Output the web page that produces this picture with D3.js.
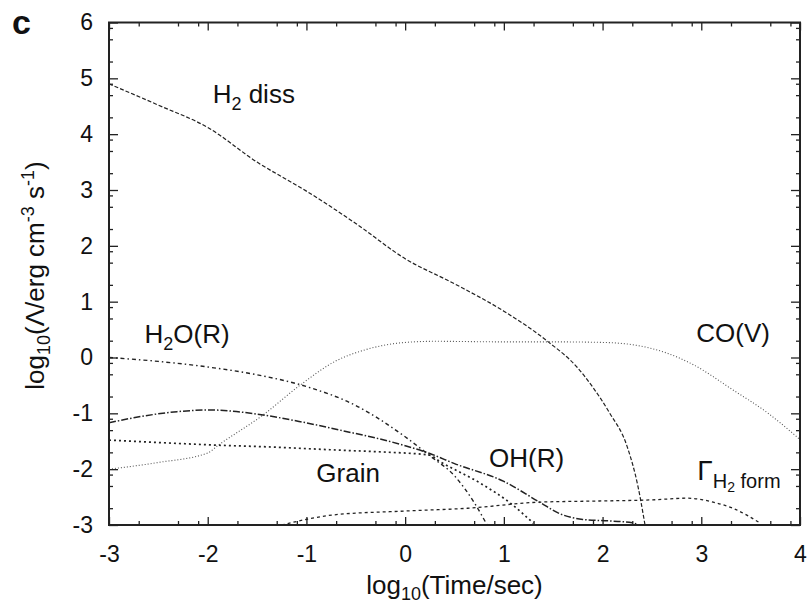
<!DOCTYPE html>
<html>
<head>
<meta charset="utf-8">
<script src="https://cdn.jsdelivr.net/npm/d3@7"></script>
<style>
  body { margin: 0; background: #fff; }
  text { font-family: "Liberation Sans", Arial, sans-serif; fill: #111; }
</style>
</head>
<body>
<script>
// chart size
var svgWidth = 809;
var svgHeight = 608;

// plot frame in pixels
var margin = { top: 22.5, right: 9, bottom: 83, left: 109 };
var chartWidth = svgWidth - margin.left - margin.right;
var chartHeight = svgHeight - margin.top - margin.bottom;

// ---- data (log10 time, log10 rate) ----
var h2dissT = [-3, -2.5, -2, -1.5, -1, -0.5, 0, 0.5, 1, 1.45, 1.74, 1.9, 2.07, 2.25, 2.36, 2.43];
var h2dissV = [4.9, 4.52, 4.12, 3.5, 2.98, 2.4, 1.77, 1.32, 0.83, 0.28, -0.17, -0.53, -0.99, -1.6, -2.32, -3.0];

var coT = [-3, -2.5, -2, -1.9, -1.44, -1.06, -0.7, -0.4, 0, 0.3, 1, 1.5, 2, 2.3, 2.65, 2.92, 3.32, 3.67, 4];
var coV = [-2.0, -1.88, -1.71, -1.58, -1.03, -0.49, -0.06, 0.14, 0.27, 0.29, 0.28, 0.28, 0.27, 0.23, 0.08, -0.13, -0.58, -0.99, -1.47];

var h2oT = [-3, -2.5, -2, -1.5, -1, -0.5, 0, 0.25, 0.5, 0.7, 0.83];
var h2oV = [0, -0.07, -0.17, -0.31, -0.52, -0.86, -1.42, -1.76, -2.12, -2.6, -3.0];

var ohT = [-3, -2.75, -2.31, -1.98, -1.44, -1.06, -0.66, 0, 0.25, 0.5, 1, 1.37, 1.57, 1.8, 2.1, 2.3, 2.36];
var ohV = [-1.17, -1.08, -0.97, -0.94, -1.03, -1.15, -1.3, -1.58, -1.72, -1.9, -2.22, -2.6, -2.8, -2.9, -2.93, -2.96, -3.0];

var grainT = [-3, -2.41, -1.91, -1.4, -0.66, -0.25, 0.25, 0.35, 0.76, 1.06, 1.3];
var grainV = [-1.48, -1.53, -1.57, -1.6, -1.66, -1.69, -1.75, -1.86, -2.25, -2.6, -2.97];

var gammaT = [-1.25, -0.73, 0, 0.63, 1.37, 1.97, 2.5, 2.86, 3.12, 3.32, 3.6];
var gammaV = [-3.0, -2.82, -2.75, -2.70, -2.59, -2.57, -2.55, -2.52, -2.59, -2.7, -2.97];

// axis ticks
var xTicks = [-3, -2, -1, 0, 1, 2, 3, 4];
var yTicks = [-3, -2, -1, 0, 1, 2, 3, 4, 5, 6];
var minorOffsets = [Math.log10(2), Math.log10(5), Math.log10(8)];

// series table built from the arrays above
var series = [
  { t: h2dissT, v: h2dissV, dash: "4,2", width: 1.2, color: "#222" },
  { t: coT, v: coV, dash: "1,2", width: 1.1, color: "#555" },
  { t: h2oT, v: h2oV, dash: "4,3,1.5,3", width: 1.4, color: "#222" },
  { t: ohT, v: ohV, dash: "7,2,1.5,2", width: 1.5, color: "#222" },
  { t: grainT, v: grainV, dash: "2,3", width: 1.7, color: "#222" },
  { t: gammaT, v: gammaV, dash: "3,3", width: 1.3, color: "#222" }
];

var svg = d3.select("body")
  .append("svg")
  .attr("width", svgWidth)
  .attr("height", svgHeight);

var chartGroup = svg.append("g")
  .attr("transform", `translate(${margin.left}, ${margin.top})`);

var xScale = d3.scaleLinear().domain([-3, 4]).range([0, chartWidth]);
var yScale = d3.scaleLinear().domain([-3, 6]).range([chartHeight, 0]);

// minor tick positions
var xMinor = [];
xTicks.slice(0, -1).forEach(function(d) {
  minorOffsets.forEach(function(o) { xMinor.push(d + o); });
});
var yMinor = [];
yTicks.slice(0, -1).forEach(function(d) {
  minorOffsets.forEach(function(o) { yMinor.push(d + o); });
});

// clip curves to the frame
svg.append("defs").append("clipPath").attr("id", "clip")
  .append("rect").attr("width", chartWidth).attr("height", chartHeight);

var line = d3.line()
  .x(d => xScale(d[0]))
  .y(d => yScale(d[1]))
  .curve(d3.curveMonotoneX);

var plot = chartGroup.append("g").attr("clip-path", "url(#clip)");
series.forEach(function(s) {
  plot.append("path")
    .datum(d3.zip(s.t, s.v))
    .attr("d", line)
    .attr("fill", "none")
    .attr("stroke", s.color)
    .attr("stroke-width", s.width)
    .attr("stroke-dasharray", s.dash);
});

// axes: ticks point inward on all four sides
function styleAxis(g) {
  g.select(".domain").remove();
  g.selectAll("line").attr("stroke", "#222").attr("stroke-width", 1.3);
  g.selectAll("text").attr("font-size", "23px").attr("fill", "#111")
    .style("font-family", "Liberation Sans, Arial, sans-serif");
}
var plain = d => String(d);   // hyphen minus, as in the figure

chartGroup.append("g")
  .attr("transform", `translate(0, ${chartHeight})`)
  .call(d3.axisBottom(xScale).tickValues(xTicks).tickSizeInner(-8).tickSizeOuter(0).tickPadding(21).tickFormat(plain))
  .call(styleAxis);
chartGroup.append("g")
  .attr("transform", `translate(0, ${chartHeight})`)
  .call(d3.axisBottom(xScale).tickValues(xMinor).tickSize(-4).tickFormat(""))
  .call(styleAxis);
chartGroup.append("g")
  .call(d3.axisTop(xScale).tickValues(xTicks).tickSize(-8).tickFormat(""))
  .call(styleAxis);
chartGroup.append("g")
  .call(d3.axisTop(xScale).tickValues(xMinor).tickSize(-4).tickFormat(""))
  .call(styleAxis);

chartGroup.append("g")
  .call(d3.axisLeft(yScale).tickValues(yTicks).tickSizeInner(-9).tickSizeOuter(0).tickPadding(16).tickFormat(plain))
  .call(styleAxis);
chartGroup.append("g")
  .call(d3.axisLeft(yScale).tickValues(yMinor).tickSize(-4).tickFormat(""))
  .call(styleAxis);
chartGroup.append("g")
  .attr("transform", `translate(${chartWidth}, 0)`)
  .call(d3.axisRight(yScale).tickValues(yTicks).tickSize(-9).tickFormat(""))
  .call(styleAxis);
chartGroup.append("g")
  .attr("transform", `translate(${chartWidth}, 0)`)
  .call(d3.axisRight(yScale).tickValues(yMinor).tickSize(-4).tickFormat(""))
  .call(styleAxis);

// frame
chartGroup.append("rect")
  .attr("width", chartWidth)
  .attr("height", chartHeight)
  .attr("fill", "none")
  .attr("stroke", "#222")
  .attr("stroke-width", 2);

// curve labels (placed in data coordinates)
function label(t, v, parts, size) {
  var txt = chartGroup.append("text")
    .attr("x", xScale(t))
    .attr("y", yScale(v))
    .attr("font-size", size + "px");
  parts.forEach(function(p) {
    txt.append("tspan")
      .attr("dy", p.dy || 0)
      .attr("font-size", (p.size || size) + "px")
      .text(p.s);
  });
}
label(-1.95, 4.55, [{ s: "H" }, { s: "2", size: 18, dy: 7 }, { s: " diss", dy: -7 }], 26);
label(-2.64, 0.26, [{ s: "H" }, { s: "2", size: 18, dy: 7 }, { s: "O(R)", dy: -7 }], 26);
label(-0.9, -2.23, [{ s: "Grain" }], 26);
label(0.85, -1.96, [{ s: "OH(R)" }], 26);
label(2.95, 0.27, [{ s: "CO(V)" }], 26);
label(2.96, -2.2, [{ s: "Γ", size: 28 }, { s: "H", size: 20, dy: 8 }, { s: "2", size: 14, dy: 4 }, { s: " form", size: 20, dy: -4 }], 26);

// axis titles
var xTitle = svg.append("text")
  .attr("x", margin.left + chartWidth / 2)
  .attr("y", 594)
  .attr("text-anchor", "middle")
  .attr("font-size", "26px");
xTitle.append("tspan").text("log");
xTitle.append("tspan").attr("dy", 6).attr("font-size", "18px").text("10");
xTitle.append("tspan").attr("dy", -6).text("(Time/sec)");

var yTitle = svg.append("text")
  .attr("transform", `translate(44, ${margin.top + 253}) rotate(-90)`)
  .attr("text-anchor", "middle")
  .attr("font-size", "26px");
yTitle.append("tspan").text("log");
yTitle.append("tspan").attr("dy", 6).attr("font-size", "18px").text("10");
yTitle.append("tspan").attr("dy", -6).text("(Λ/erg cm");
yTitle.append("tspan").attr("dy", -10).attr("font-size", "18px").text("-3");
yTitle.append("tspan").attr("dy", 10).text(" s");
yTitle.append("tspan").attr("dy", -10).attr("font-size", "18px").text("-1");
yTitle.append("tspan").attr("dy", 10).text(")");

// panel letter
svg.append("text")
  .attr("x", 12)
  .attr("y", 34)
  .attr("font-size", "34px")
  .attr("font-weight", "bold")
  .text("c");
</script>
</body>
</html>
